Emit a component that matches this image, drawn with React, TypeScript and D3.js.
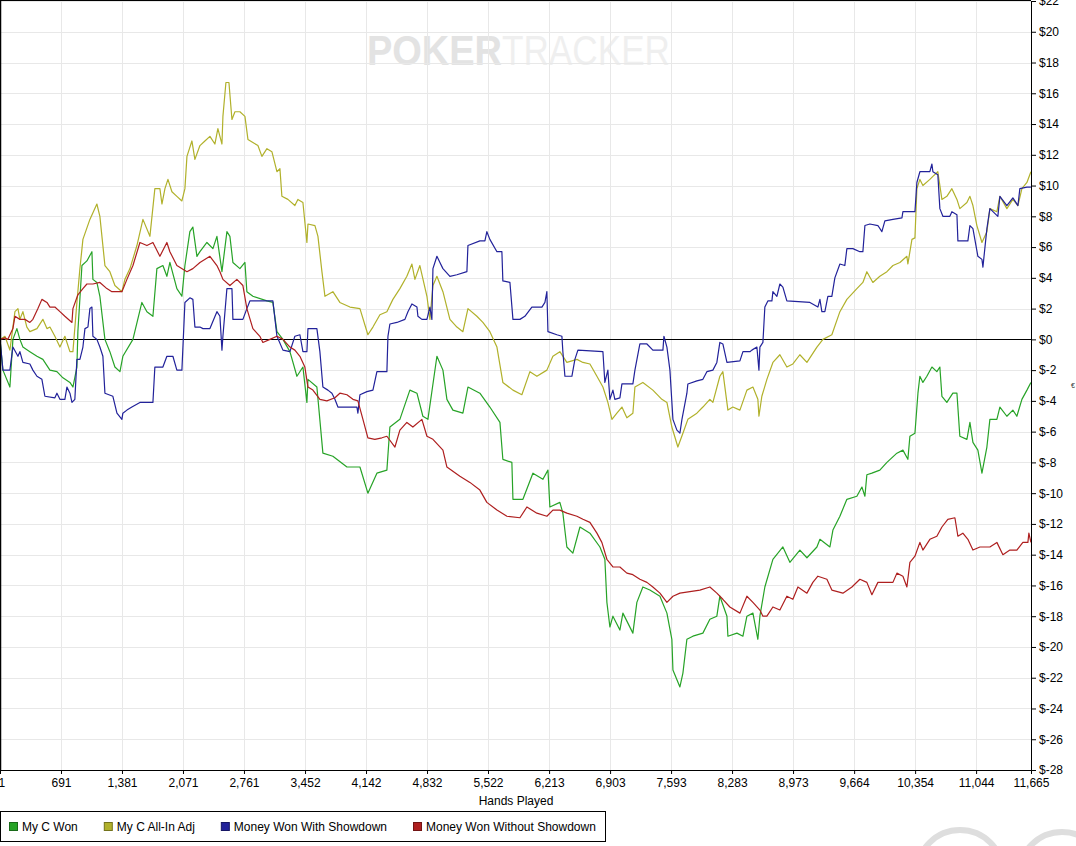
import { useEffect, useRef } from "react";
import * as d3 from "d3";

type Pt = [number, number];

// x-axis ticks (hand numbers) and y-axis ticks (dollars)
const handTicks = [1, 691, 1381, 2071, 2761, 3452, 4142, 4832, 5522, 6213, 6903, 7593, 8283, 8973, 9664, 10354, 11044, 11665];
const dollarTicks = [-28, -26, -24, -22, -20, -18, -16, -14, -12, -10, -8, -6, -4, -2, 0, 2, 4, 6, 8, 10, 12, 14, 16, 18, 20, 22];

// [hand, dollars won]
const myCWon: Pt[] = [
  [1, 0], [34, -2.0], [113, -3.1], [147, 0], [192, 0.7], [226, 0], [260, -0.5], [339, -0.8], [419, -1.1],
  [486, -1.3], [566, -2.0], [645, -2.1], [713, -2.5], [792, -2.8], [826, -3.1], [871, -1.8], [882, 0.5],
  [928, 4.8], [984, 5.1], [1041, 5.7], [1052, 3.9], [1097, 3.7], [1131, 2.8], [1188, 0], [1244, -0.8],
  [1301, -1.8], [1358, -2.1], [1391, -1.1], [1505, 0], [1606, 2.4], [1663, 1.8], [1731, 1.5], [1776, 4.6],
  [1844, 4.8], [1889, 4.1], [1923, 5.0], [2002, 3.3], [2059, 2.8], [2093, 4.8], [2149, 7.0], [2183, 7.3],
  [2229, 5.4], [2263, 5.7], [2342, 6.3], [2410, 5.9], [2455, 6.7], [2512, 4.4], [2568, 7.0], [2602, 6.7],
  [2636, 5.0], [2715, 4.6], [2772, 5.0], [2794, 3.1], [2862, 2.8], [3021, 2.5], [3088, 2.4], [3134, 0.5],
  [3202, 0], [3281, -0.8], [3360, -2.4], [3428, -1.8], [3473, -4.1], [3485, -2.6], [3586, -3.1], [3654, -7.4],
  [3767, -7.6], [3926, -8.3], [4073, -8.3], [4163, -10.0], [4265, -8.7], [4378, -8.5], [4412, -5.7],
  [4525, -5.2], [4638, -3.3], [4718, -3.5], [4785, -5.0], [4842, -5.2], [4944, -1.1], [5012, -2.0],
  [5057, -3.9], [5125, -4.6], [5238, -4.8], [5295, -3.1], [5430, -3.5], [5543, -4.4], [5657, -5.4],
  [5690, -7.8], [5792, -8.0], [5804, -10.4], [5917, -10.4], [6030, -8.7], [6143, -9.1], [6200, -8.5],
  [6222, -10.9], [6335, -10.6], [6369, -11.3], [6414, -13.5], [6482, -13.9], [6562, -12.2], [6675, -12.6],
  [6788, -13.5], [6844, -14.3], [6867, -17.1], [6901, -18.7], [6935, -18.0], [7014, -18.9], [7048, -17.8],
  [7161, -19.1], [7206, -17.1], [7274, -16.1], [7353, -16.3], [7467, -16.7], [7546, -17.8], [7602, -19.5],
  [7614, -21.5], [7693, -22.6], [7727, -21.7], [7772, -19.5], [7840, -19.3], [7953, -19.1], [8032, -18.2],
  [8111, -18.0], [8145, -16.7], [8225, -18.0], [8236, -19.3], [8338, -19.1], [8406, -19.3], [8451, -18.0],
  [8519, -17.8], [8575, -19.5], [8598, -18.0], [8654, -16.1], [8745, -14.3], [8858, -13.5], [8937, -14.5],
  [9050, -13.7], [9130, -14.2], [9243, -13.5], [9277, -13.0], [9390, -13.5], [9424, -12.4], [9503, -11.5],
  [9582, -10.4], [9695, -10.2], [9752, -9.6], [9786, -10.2], [9808, -8.8], [9865, -8.7], [9955, -8.5],
  [10035, -8.0], [10148, -7.4], [10216, -7.2], [10272, -7.8], [10295, -6.3], [10352, -6.1], [10386, -3.5],
  [10408, -2.4], [10442, -2.8], [10487, -2.4], [10544, -1.8], [10600, -2.1], [10634, -1.8], [10657, -3.7],
  [10713, -4.1], [10781, -3.5], [10827, -3.5], [10860, -6.3], [10940, -6.5], [10974, -5.4], [11008, -6.7],
  [11064, -7.2], [11110, -8.7], [11166, -7.0], [11200, -5.2], [11279, -5.2], [11313, -4.4], [11392, -5.0],
  [11460, -4.6], [11505, -5.0], [11562, -3.9], [11619, -3.3], [11664, -2.8],
];

const myCAllInAdj: Pt[] = [
  [1, 0], [57, 0.2], [113, -0.7], [170, 1.8], [204, 2.0], [226, 1.3], [260, 1.8], [305, 0.8], [339, 0.5],
  [419, 0.7], [486, 1.3], [532, 0.7], [566, 0.8], [622, 0.2], [679, -0.5], [735, 0.2], [792, -0.8],
  [826, -0.8], [871, 2.4], [905, 4.6], [939, 6.5], [1018, 7.8], [1097, 8.8], [1131, 8.0], [1188, 4.8],
  [1244, 4.4], [1301, 3.5], [1380, 3.1], [1414, 3.9], [1471, 4.6], [1550, 6.1], [1618, 7.8], [1697, 6.7],
  [1753, 9.8], [1810, 9.8], [1833, 8.8], [1867, 9.8], [1901, 10.4], [1946, 9.6], [2002, 9.3], [2059, 9.0],
  [2093, 9.8], [2116, 11.9], [2172, 12.9], [2206, 11.7], [2263, 12.6], [2319, 12.9], [2376, 13.2],
  [2432, 12.7], [2466, 13.7], [2512, 12.7], [2523, 14.5], [2557, 16.7], [2591, 16.7], [2625, 14.3],
  [2659, 14.8], [2715, 14.8], [2772, 14.5], [2806, 13.0], [2862, 12.8], [2919, 12.6], [2964, 11.9],
  [3021, 12.4], [3077, 12.2], [3134, 10.9], [3168, 11.1], [3190, 9.3], [3258, 9.1], [3337, 8.7], [3371, 9.1],
  [3428, 8.9], [3473, 6.3], [3485, 7.5], [3564, 7.4], [3598, 6.7], [3643, 4.4], [3677, 2.8], [3767, 3.1],
  [3846, 2.4], [3960, 2.1], [4073, 2.0], [4163, 0.3], [4220, 0.8], [4299, 1.6], [4378, 1.8], [4446, 2.6],
  [4525, 3.3], [4604, 4.1], [4661, 4.9], [4695, 3.9], [4751, 4.8], [4831, 2.8], [4865, 1.3], [4899, 3.5],
  [4944, 4.1], [5012, 3.1], [5091, 1.3], [5170, 0.8], [5238, 0.5], [5295, 2.0], [5396, 1.5], [5464, 1.1],
  [5543, 0.5], [5623, -0.5], [5690, -2.8], [5804, -3.3], [5905, -3.6], [5996, -2.1], [6075, -2.4],
  [6188, -2.0], [6256, -1.1], [6335, -0.8], [6414, -1.5], [6528, -1.3], [6596, -1.5], [6675, -1.6],
  [6754, -2.4], [6822, -3.1], [6878, -4.1], [6924, -5.2], [6980, -4.8], [7037, -4.4], [7093, -5.1],
  [7161, -4.8], [7184, -3.1], [7274, -2.8], [7387, -3.3], [7489, -3.9], [7546, -4.1], [7602, -5.7],
  [7670, -7.0], [7727, -6.1], [7783, -5.2], [7885, -4.8], [7953, -4.4], [8032, -3.9], [8066, -4.1],
  [8145, -2.4], [8179, -2.1], [8236, -4.6], [8292, -4.4], [8372, -4.6], [8451, -3.3], [8519, -3.1],
  [8575, -3.9], [8587, -5.0], [8620, -3.7], [8677, -2.6], [8745, -1.5], [8824, -1.0], [8903, -1.8],
  [8971, -1.6], [9050, -1.0], [9130, -1.5], [9243, -0.5], [9311, 0], [9412, 0.3], [9503, 1.8], [9582, 2.6],
  [9695, 3.3], [9763, 3.7], [9808, 4.4], [9876, 3.7], [9955, 4.1], [10035, 4.4], [10103, 4.8], [10182, 5.0],
  [10261, 5.4], [10272, 4.9], [10318, 6.5], [10352, 6.6], [10374, 9.8], [10408, 10.4], [10442, 10.0],
  [10521, 10.4], [10555, 10.6], [10611, 10.9], [10657, 9.1], [10713, 9.3], [10770, 9.8], [10827, 9.1],
  [10860, 8.5], [10940, 8.9], [10974, 9.3], [11008, 8.7], [11053, 7.4], [11110, 6.3], [11166, 7.0],
  [11200, 8.5], [11279, 8.3], [11313, 9.3], [11392, 8.5], [11460, 9.1], [11517, 8.7], [11562, 9.8],
  [11619, 10.2], [11664, 10.9],
];

const wonWithShowdown: Pt[] = [
  [1, 0], [34, -2.0], [113, -2.0], [147, -0.5], [204, -1.1], [226, -0.8], [260, -1.5], [339, -1.6],
  [373, -2.0], [419, -2.4], [475, -2.6], [509, -3.7], [622, -3.8], [645, -3.5], [679, -3.9], [735, -3.9],
  [758, -3.1], [792, -3.5], [815, -4.1], [848, -3.9], [871, -1.3], [905, -1.3], [939, -0.5], [962, 0.7],
  [996, 0.8], [1018, 2.0], [1041, 2.1], [1052, 0.2], [1097, 0], [1131, -0.5], [1165, -1.1], [1188, -3.5],
  [1278, -3.7], [1324, -4.8], [1380, -5.2], [1391, -4.8], [1437, -4.6], [1493, -4.4], [1584, -4.1],
  [1731, -4.1], [1753, -1.8], [1844, -1.8], [1889, -1.1], [1957, -1.1], [2002, -2.0], [2059, -2.0],
  [2093, 2.4], [2149, 2.7], [2183, 2.6], [2206, 0.8], [2263, 0.8], [2297, 0.7], [2376, 0.7], [2455, 1.8],
  [2489, 1.5], [2512, -0.7], [2523, 0.2], [2568, 3.3], [2625, 3.3], [2636, 1.3], [2749, 1.3], [2794, 2.0],
  [2828, 2.5], [3088, 2.5], [3134, 0.2], [3202, -0.7], [3281, -0.8], [3337, 0.2], [3394, 0.3], [3428, -0.8],
  [3473, -0.8], [3485, 0.7], [3586, 0.7], [3620, -0.8], [3654, -3.1], [3711, -3.3], [3756, -3.5],
  [3790, -3.9], [3824, -4.4], [4039, -4.4], [4050, -4.8], [4073, -3.6], [4152, -3.4], [4220, -3.3],
  [4265, -2.1], [4378, -2.1], [4390, 0.2], [4412, 1.0], [4491, 1.1], [4582, 1.3], [4616, 1.8], [4661, 2.3],
  [4718, 2.1], [4729, 1.5], [4774, 1.3], [4831, 1.3], [4865, 2.1], [4887, 1.3], [4899, 4.6], [4944, 5.4],
  [4978, 5.0], [5012, 4.6], [5091, 4.1], [5170, 4.2], [5283, 4.4], [5295, 6.1], [5430, 6.4], [5487, 6.4],
  [5509, 7.0], [5543, 6.5], [5623, 5.7], [5679, 5.7], [5690, 3.8], [5770, 3.7], [5804, 1.3], [5883, 1.3],
  [5939, 1.5], [6018, 2.1], [6132, 2.1], [6166, 2.4], [6188, 3.1], [6200, 0.5], [6301, 0.3], [6358, 0.2],
  [6369, -0.8], [6392, -2.4], [6471, -2.4], [6505, -1.3], [6539, -0.7], [6822, -0.8], [6844, -2.8],
  [6878, -2.0], [6901, -3.9], [6935, -3.3], [6957, -3.9], [7014, -3.8], [7037, -2.9], [7161, -2.9],
  [7184, -2.0], [7240, -0.3], [7320, -0.3], [7387, -0.7], [7501, -0.7], [7512, 0.2], [7546, -0.5],
  [7580, -2.0], [7614, -5.2], [7659, -5.9], [7693, -6.1], [7716, -5.2], [7772, -3.5], [7783, -2.9],
  [7885, -2.7], [7953, -2.6], [7998, -2.1], [8066, -2.0], [8111, -1.5], [8145, -0.2], [8179, -0.3],
  [8225, -1.5], [8372, -1.4], [8406, -0.8], [8485, -0.8], [8507, -0.7], [8564, -0.5], [8587, -2.0],
  [8598, -0.5], [8632, -0.2], [8654, 2.1], [8688, 2.5], [8734, 2.5], [8745, 3.1], [8790, 2.8], [8824, 3.6],
  [8858, 3.4], [8903, 2.5], [9164, 2.4], [9254, 2.1], [9277, 2.6], [9299, 1.8], [9333, 1.8], [9367, 2.8],
  [9412, 2.8], [9446, 4.0], [9503, 4.9], [9559, 4.8], [9582, 5.9], [9650, 5.9], [9729, 5.7], [9763, 5.7],
  [9786, 7.4], [9842, 7.5], [9933, 7.4], [9978, 7.0], [10012, 7.7], [10103, 7.8], [10205, 7.9],
  [10216, 8.3], [10352, 8.3], [10374, 10.2], [10408, 10.9], [10487, 10.9], [10521, 10.9], [10544, 11.4],
  [10555, 10.9], [10611, 10.7], [10634, 8.5], [10668, 8.0], [10747, 8.0], [10770, 8.3], [10827, 8.1],
  [10838, 6.4], [10951, 6.4], [10974, 7.4], [11008, 7.2], [11064, 5.4], [11110, 5.2], [11121, 4.7],
  [11166, 7.2], [11200, 8.5], [11290, 8.0], [11313, 9.3], [11392, 8.7], [11460, 9.2], [11517, 8.7],
  [11539, 9.8], [11619, 9.9], [11664, 9.9],
];

const wonWithoutShowdown: Pt[] = [
  [1, 0], [57, 0.1], [90, 0], [147, 0.7], [170, 1.5], [226, 1.3], [283, 1.3], [339, 1.1], [373, 1.3],
  [430, 2.0], [475, 2.6], [532, 2.4], [566, 2.1], [622, 2.1], [679, 1.8], [735, 1.5], [815, 1.1], [826, 2.0],
  [882, 2.9], [939, 3.3], [984, 3.6], [1052, 3.6], [1131, 3.7], [1210, 3.3], [1267, 3.1], [1324, 3.1],
  [1380, 3.1], [1437, 3.9], [1505, 4.8], [1584, 6.3], [1663, 6.1], [1731, 6.3], [1810, 5.4], [1889, 6.3],
  [1923, 5.7], [2002, 4.8], [2116, 4.4], [2183, 4.6], [2263, 5.0], [2376, 5.4], [2455, 4.8], [2489, 4.4],
  [2523, 3.9], [2602, 3.5], [2681, 3.9], [2749, 3.5], [2794, 2.0], [2862, 0.7], [2941, 0.2], [2975, -0.2],
  [3055, 0], [3134, 0.2], [3202, 0], [3281, -0.5], [3337, -0.7], [3394, -1.1], [3450, -1.8], [3485, -3.1],
  [3541, -3.3], [3620, -3.9], [3699, -4.0], [3790, -3.8], [3846, -3.5], [3926, -3.6], [3994, -3.9],
  [4050, -4.0], [4107, -5.2], [4163, -6.4], [4242, -6.5], [4322, -6.4], [4378, -6.3], [4469, -7.0],
  [4525, -5.9], [4604, -5.4], [4672, -5.7], [4774, -5.2], [4831, -6.3], [4899, -6.5], [5012, -7.2],
  [5057, -8.3], [5204, -8.9], [5317, -9.3], [5430, -9.8], [5509, -10.6], [5623, -11.1], [5736, -11.5],
  [5883, -11.6], [5962, -10.9], [6075, -11.3], [6188, -11.5], [6256, -11.1], [6335, -11.1], [6414, -11.3],
  [6528, -11.5], [6596, -11.7], [6675, -11.9], [6754, -12.6], [6810, -13.2], [6867, -14.3], [6935, -14.8],
  [7014, -14.8], [7093, -15.2], [7161, -15.3], [7240, -15.6], [7320, -15.8], [7387, -16.1], [7467, -16.5],
  [7546, -17.1], [7614, -16.7], [7693, -16.5], [7806, -16.4], [7919, -16.3], [8032, -16.1], [8111, -16.5],
  [8179, -16.9], [8258, -17.4], [8372, -17.8], [8451, -16.7], [8519, -17.1], [8598, -17.6], [8632, -18.0],
  [8677, -18.0], [8745, -17.4], [8824, -17.6], [8903, -16.7], [8971, -16.9], [9028, -16.1], [9130, -16.5],
  [9197, -15.8], [9254, -15.4], [9356, -15.6], [9412, -16.3], [9537, -16.5], [9639, -16.1], [9729, -15.6],
  [9808, -15.8], [9865, -16.6], [9933, -15.8], [10103, -15.8], [10148, -15.2], [10216, -15.4],
  [10261, -16.1], [10295, -14.5], [10352, -14.1], [10408, -13.2], [10442, -13.7], [10521, -13.0],
  [10600, -12.8], [10657, -12.2], [10724, -11.7], [10804, -11.6], [10838, -12.8], [10894, -12.6],
  [10951, -13.0], [11008, -13.7], [11087, -13.5], [11200, -13.5], [11279, -13.2], [11347, -14.0],
  [11426, -13.7], [11505, -13.7], [11573, -13.2], [11630, -13.2], [11641, -12.6], [11664, -13.2],
];

const seriesNames = ["My C Won", "My C All-In Adj", "Money Won With Showdown", "Money Won Without Showdown"];
const seriesColors = ["#27a327", "#b1b12b", "#22229a", "#ae1f1f"];
const seriesData = [myCWon, myCAllInAdj, wonWithShowdown, wonWithoutShowdown];

const FONT = "'Liberation Sans', Arial, sans-serif";

export default function App() {
  const svgRef = useRef<SVGSVGElement>(null);

  useEffect(() => {
    document.body.style.margin = "0";
    if (!svgRef.current) return;
    const svg = d3.select(svgRef.current);
    svg.selectAll("*").remove();

    const width = 1076;
    const height = 846;
    const plotRight = 1031;
    const plotTop = 1;
    const plotBottom = 770;

    svg.attr("width", width).attr("height", height);
    svg.append("rect").attr("width", width).attr("height", height).attr("fill", "#fff");

    const x = d3.scaleLinear().domain([1, 11665]).range([0, plotRight]);
    const y = d3.scaleLinear().domain([-28, 22]).range([plotBottom, plotTop]);

    // watermark
    const wm = svg.append("text").attr("x", 367).attr("y", 65).attr("font-family", FONT).attr("font-size", 42);
    wm.append("tspan").attr("font-weight", "bold").attr("fill", "#e3e3e3")
      .attr("textLength", 135).attr("lengthAdjust", "spacingAndGlyphs").text("POKER");
    wm.append("tspan").attr("fill", "#efefef")
      .attr("textLength", 168).attr("lengthAdjust", "spacingAndGlyphs").text("TRACKER");

    // grid
    const grid = svg.append("g").attr("stroke", "#e8e8e8").attr("stroke-width", 1);
    grid.selectAll(".v").data(handTicks.slice(1, -1)).enter().append("line")
      .attr("x1", (d) => Math.round(x(d)) + 0.5).attr("x2", (d) => Math.round(x(d)) + 0.5)
      .attr("y1", plotTop).attr("y2", plotBottom);
    grid.selectAll(".h").data(dollarTicks.filter((d) => d !== 0)).enter().append("line")
      .attr("x1", 0).attr("x2", plotRight)
      .attr("y1", (d) => Math.round(y(d)) + 0.5).attr("y2", (d) => Math.round(y(d)) + 0.5);

    // zero line
    svg.append("line").attr("x1", 0).attr("x2", plotRight)
      .attr("y1", Math.round(y(0)) + 0.5).attr("y2", Math.round(y(0)) + 0.5)
      .attr("stroke", "#000").attr("stroke-width", 1);

    // series
    const line = d3.line<Pt>().x((d) => x(d[0])).y((d) => y(d[1]));
    seriesData.forEach((data, i) => {
      svg.append("path").datum(data).attr("d", line).attr("fill", "none")
        .attr("stroke", seriesColors[i]).attr("stroke-width", 1.2).attr("stroke-linejoin", "round");
    });

    // frame
    svg.append("line").attr("x1", 0).attr("x2", plotRight).attr("y1", 0.5).attr("y2", 0.5).attr("stroke", "#000");
    svg.append("line").attr("x1", 0.5).attr("x2", 0.5).attr("y1", 0).attr("y2", plotBottom).attr("stroke", "#000").attr("stroke-width", 1.5);

    // x axis
    const xAxis = svg.append("g").attr("transform", `translate(0,${plotBottom})`)
      .call(d3.axisBottom(x).tickValues(handTicks).tickSize(4).tickSizeOuter(0).tickFormat(d3.format(",") as any));
    xAxis.selectAll("text").attr("font-family", FONT).attr("font-size", 12).attr("fill", "#000").attr("y", 8);
    xAxis.selectAll(".tick").filter((d: any) => d === 1).select("text").attr("text-anchor", "start").attr("x", -2);

    // y axis
    const yAxis = svg.append("g").attr("transform", `translate(${plotRight},0)`)
      .call(d3.axisRight(y).tickValues(dollarTicks).tickSize(5).tickSizeOuter(0).tickFormat((d: any) => `$${d}`));
    yAxis.selectAll("text").attr("font-family", FONT).attr("font-size", 12).attr("fill", "#000").attr("x", 8);
    svg.append("text").attr("x", 1071).attr("y", 388).attr("font-family", FONT).attr("font-size", 7)
      .attr("fill", "#333").text("€");

    svg.append("text").attr("x", 516).attr("y", 805).attr("text-anchor", "middle")
      .attr("font-family", FONT).attr("font-size", 12).attr("fill", "#000").text("Hands Played");

    // legend
    const legend = svg.append("g");
    legend.append("rect").attr("x", 0.5).attr("y", 811.5).attr("width", 605).attr("height", 30)
      .attr("fill", "#fff").attr("stroke", "#000");
    let lx = 9;
    seriesNames.forEach((name, i) => {
      legend.append("rect").attr("x", lx + 0.5).attr("y", 822.5).attr("width", 8).attr("height", 8)
        .attr("fill", seriesColors[i]).attr("stroke", d3.color(seriesColors[i])!.darker(1.2).toString());
      const t = legend.append("text").attr("x", lx + 13).attr("y", 831)
        .attr("font-family", FONT).attr("font-size", 12).attr("fill", "#000").text(name);
      const w = (t.node() as SVGTextElement).getComputedTextLength();
      lx = lx + 13 + w + 26;
    });

    // decorative logo rings, bottom right
    svg.append("circle").attr("cx", 960).attr("cy", 873).attr("r", 43)
      .attr("fill", "none").attr("stroke", "#dedede").attr("stroke-width", 6);
    svg.append("circle").attr("cx", 1062).attr("cy", 875).attr("r", 43)
      .attr("fill", "none").attr("stroke", "#dedede").attr("stroke-width", 6);
  }, []);

  return (
    <div style={{ position: "absolute", left: 0, top: 0 }}>
      <svg ref={svgRef} style={{ display: "block" }} />
    </div>
  );
}
